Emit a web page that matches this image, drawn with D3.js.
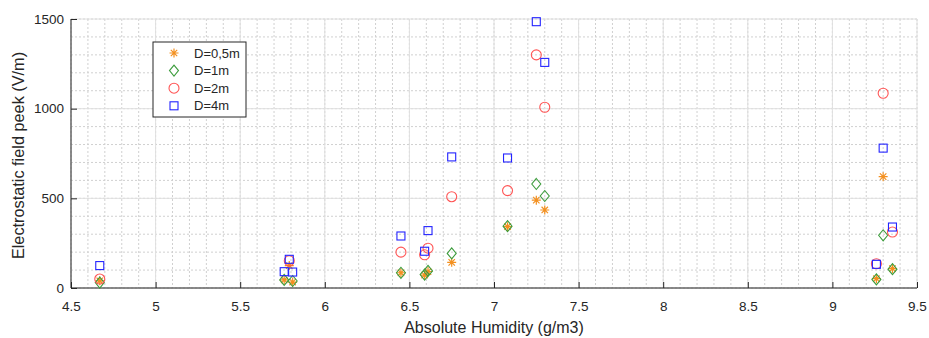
<!DOCTYPE html>
<html>
<head>
<meta charset="utf-8">
<script src="https://cdn.jsdelivr.net/npm/d3@7"></script>
<style>
  body { margin: 0; background: #fff; }
  svg text { font-family: "Liberation Sans", Arial, sans-serif; fill: #262626; }
</style>
</head>
<body>
<div id="chart"></div>
<script>
// -------- data -------- //
var xTicks = [4.5, 5, 5.5, 6, 6.5, 7, 7.5, 8, 8.5, 9, 9.5];
var yTicks = [0, 500, 1000, 1500];

var humid05 = [4.67, 5.76, 5.79, 5.81, 6.45, 6.59, 6.61, 6.75, 7.08, 7.25, 7.30, 9.26, 9.30, 9.355];
var peak05 = [40, 45, 125, 33, 85, 72, 92, 143, 342, 490, 435, 52, 621, 108];

var humid1 = [4.67, 5.76, 5.81, 6.45, 6.59, 6.61, 6.75, 7.08, 7.25, 7.30, 9.26, 9.30, 9.355];
var peak1 = [30, 45, 39, 85, 75, 95, 193, 345, 580, 513, 48, 294, 105];

var humid2 = [4.67, 5.79, 6.45, 6.59, 6.61, 6.75, 7.08, 7.25, 7.30, 9.26, 9.30, 9.355];
var peak2 = [50, 152, 200, 185, 222, 509, 543, 1300, 1008, 135, 1086, 312];

var humid4 = [4.67, 5.76, 5.79, 5.81, 6.45, 6.59, 6.61, 6.75, 7.08, 7.25, 7.30, 9.26, 9.30, 9.355];
var peak4 = [125, 91, 160, 89, 290, 205, 320, 731, 725, 1485, 1258, 132, 780, 340];

var seriesNames = ["D=0,5m", "D=1m", "D=2m", "D=4m"];
var seriesColors = ["#f39020", "#3c9c3c", "#ff5555", "#2323ff"];
var seriesShapes = ["star", "diamond", "circle", "square"];

var series = [
  { x: humid05, y: peak05 },
  { x: humid1, y: peak1 },
  { x: humid2, y: peak2 },
  { x: humid4, y: peak4 },
];

// -------- layout -------- //
var W = 929, H = 338;
var margin = { top: 19, right: 12, bottom: 50, left: 71 };
var width = W - margin.left - margin.right;
var height = H - margin.top - margin.bottom;

var svg = d3.select("#chart").append("svg")
  .attr("width", W).attr("height", H);

var g = svg.append("g")
  .attr("transform", "translate(" + margin.left + "," + margin.top + ")");

var x = d3.scaleLinear().domain([4.5, 9.5]).range([0, width]);
var y = d3.scaleLinear().domain([0, 1500]).range([height, 0]);

// minor grid
var xMinor = d3.range(45, 96).map(function(d) { return d / 10; });
var yMinor = d3.range(0, 1501, 100);
g.append("g").selectAll("line").data(xMinor).join("line")
  .attr("x1", function(d) { return x(d); }).attr("x2", function(d) { return x(d); })
  .attr("y1", 0).attr("y2", height)
  .attr("stroke", "#d0d0d0").attr("stroke-dasharray", "2,2");
g.append("g").selectAll("line").data(yMinor).join("line")
  .attr("y1", function(d) { return y(d); }).attr("y2", function(d) { return y(d); })
  .attr("x1", 0).attr("x2", width)
  .attr("stroke", "#d0d0d0").attr("stroke-dasharray", "2,2");

// major grid
g.append("g").selectAll("line").data(xTicks).join("line")
  .attr("x1", function(d) { return x(d); }).attr("x2", function(d) { return x(d); })
  .attr("y1", 0).attr("y2", height)
  .attr("stroke", "#e0e0e0");
g.append("g").selectAll("line").data(yTicks).join("line")
  .attr("y1", function(d) { return y(d); }).attr("y2", function(d) { return y(d); })
  .attr("x1", 0).attr("x2", width)
  .attr("stroke", "#e0e0e0");

// axes, ticks pointing inward like matlab
var xAxis = g.append("g")
  .attr("transform", "translate(0," + height + ")")
  .call(d3.axisBottom(x).tickValues(xTicks).tickSize(-6).tickPadding(13)
    .tickFormat(d3.format("")));
var yAxis = g.append("g")
  .call(d3.axisLeft(y).tickValues(yTicks).tickSize(-6).tickPadding(7)
    .tickFormat(d3.format("d")));

[xAxis, yAxis].forEach(function(ax) {
  ax.select(".domain").remove();
  ax.selectAll(".tick line").attr("stroke", "#262626");
  ax.selectAll(".tick text").attr("font-size", 13.5)
    .attr("font-family", "Liberation Sans, Arial, sans-serif").attr("fill", "#262626");
});
g.append("line").attr("x1", 0).attr("x2", width).attr("y1", height).attr("y2", height)
  .attr("stroke", "#262626");
g.append("line").attr("x1", 0).attr("x2", 0).attr("y1", 0).attr("y2", height)
  .attr("stroke", "#262626");

// axis titles
svg.append("text")
  .attr("x", margin.left + width / 2).attr("y", 333)
  .attr("text-anchor", "middle").attr("font-size", 16)
  .text("Absolute Humidity (g/m3)");
svg.append("text")
  .attr("transform", "translate(24," + (margin.top + height / 2 + 2) + ") rotate(-90)")
  .attr("text-anchor", "middle").attr("font-size", 16.3)
  .text("Electrostatic field peek (V/m)");

// marker drawing
function marker(sel, shape, color) {
  if (shape === "star") {
    sel.append("path")
      .attr("d", "M-4.5,0H4.5M0,-4.5V4.5M-3.2,-3.2L3.2,3.2M-3.2,3.2L3.2,-3.2")
      .attr("stroke", color).attr("stroke-width", 1.2).attr("fill", "none");
  } else if (shape === "diamond") {
    sel.append("path")
      .attr("d", "M0,-5.5L4.5,0L0,5.5L-4.5,0Z")
      .attr("stroke", color).attr("stroke-width", 1.1).attr("fill", "none");
  } else if (shape === "circle") {
    sel.append("circle").attr("r", 5)
      .attr("stroke", color).attr("stroke-width", 1.1).attr("fill", "none");
  } else {
    sel.append("rect").attr("x", -4).attr("y", -4).attr("width", 8).attr("height", 8)
      .attr("stroke", color).attr("stroke-width", 1.1).attr("fill", "none");
  }
}

series.forEach(function(s, i) {
  var pts = s.x.map(function(v, k) { return [v, s.y[k]]; });
  g.append("g").selectAll("g").data(pts).join("g")
    .attr("transform", function(d) { return "translate(" + x(d[0]) + "," + y(d[1]) + ")"; })
    .each(function() { marker(d3.select(this), seriesShapes[i], seriesColors[i]); });
});

// legend
var leg = svg.append("g").attr("transform", "translate(153,42)");
leg.append("rect").attr("width", 93).attr("height", 75)
  .attr("fill", "#fff").attr("stroke", "#262626").attr("stroke-width", 1);
seriesNames.forEach(function(name, i) {
  var row = leg.append("g").attr("transform", "translate(21," + (11 + i * 17.6) + ")");
  marker(row, seriesShapes[i], seriesColors[i]);
  row.append("text").attr("x", 20).attr("y", 4.5).attr("font-size", 13).text(name);
});
</script>
</body>
</html>
